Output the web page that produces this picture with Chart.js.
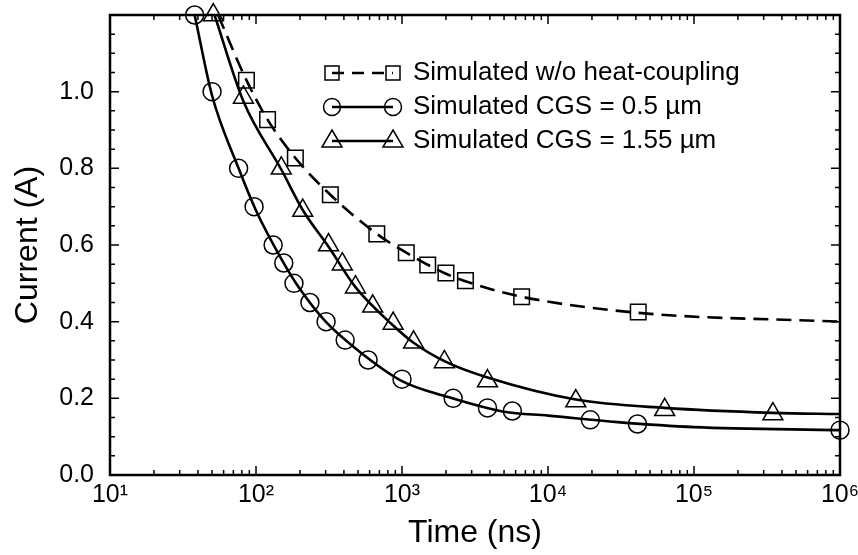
<!DOCTYPE html>
<html>
<head>
<meta charset="utf-8">
<script src="https://cdn.jsdelivr.net/npm/chart.js@4.4.1/dist/chart.umd.min.js"></script>
<style>
  html, body { margin: 0; padding: 0; background: #fff; }
  #wrap { width: 858px; height: 555px; }
</style>
</head>
<body>
<div id="wrap"><canvas id="chart"></canvas></div>
<script>
// --- данные ---
// маркеры: без теплового взаимодействия (квадраты)
const sqTime = [86, 120, 186, 323, 672, 1070, 1500, 2000, 2720, 6600, 41500];
const sqCurrent = [1.03, 0.927, 0.827, 0.731, 0.629, 0.58, 0.548, 0.527, 0.507, 0.465, 0.425];
// маркеры: CGS = 0.5 мкм (круги)
const ciTime = [38, 50, 76, 97, 131, 155, 182, 234, 302, 408, 586, 1000, 2240, 3850, 5700, 19500, 41000, 1000000];
const ciCurrent = [1.2, 1.0, 0.80, 0.70, 0.60, 0.553, 0.50, 0.45, 0.40, 0.352, 0.30, 0.25, 0.20, 0.175, 0.167, 0.144, 0.133, 0.117];
// маркеры: CGS = 1.55 мкм (треугольники)
const trTime = [51, 82, 149, 209, 314, 390, 480, 630, 870, 1200, 1950, 3850, 15500, 63000, 347000];
const trCurrent = [1.2, 0.985, 0.80, 0.69, 0.60, 0.55, 0.49, 0.44, 0.395, 0.346, 0.295, 0.245, 0.193, 0.17, 0.159];

// сглаженные кривые (точки вдоль линий)
const sqCurveTime = [55, 86, 120, 186, 323, 672, 1070, 2000, 3000, 6600, 41500, 1000000];
const sqCurveCurrent = [1.2, 1.03, 0.927, 0.827, 0.731, 0.629, 0.58, 0.525, 0.50, 0.465, 0.423, 0.40];
const ciCurveTime = [38, 50, 76, 100, 150, 200, 300, 500, 1000, 2000, 5000, 10000, 30000, 100000, 1000000];
const ciCurveCurrent = [1.2, 0.99, 0.80, 0.69, 0.562, 0.485, 0.40, 0.325, 0.245, 0.205, 0.165, 0.155, 0.138, 0.125, 0.117];
const trCurveTime = [52, 82, 150, 210, 315, 480, 870, 1200, 2000, 3800, 15500, 63000, 347000, 1000000];
const trCurveCurrent = [1.2, 0.975, 0.795, 0.69, 0.595, 0.49, 0.39, 0.345, 0.295, 0.255, 0.197, 0.175, 0.162, 0.159];

const seriesNames = ['Simulated w/o heat-coupling', 'Simulated CGS = 0.5 \u00b5m', 'Simulated CGS = 1.55 \u00b5m'];
const xTickValues = [10, 100, 1000, 10000, 100000, 1000000];
const xTickLabels = ['10\u00b9', '10\u00b2', '10\u00b3', '10\u2074', '10\u2075', '10\u2076'];
const yTickLabels = ['0.0', '0.2', '0.4', '0.6', '0.8', '1.0', ''];

const toPoints = (xs, ys) => xs.map((x, i) => ({x: x, y: ys[i]}));
const FONT = "'Liberation Sans', Arial, Helvetica, sans-serif";

// рамка, внутренние засечки и легенда с линией и двумя маркерами
const framePlugin = {
    id: 'frame',
    afterDraw(chart) {
        const {ctx, chartArea: a, scales} = chart;
        const x = scales.x, y = scales.y;
        ctx.save();
        ctx.strokeStyle = '#000';
        ctx.lineWidth = 1.5;
        ctx.beginPath();
        for (let e = 1; e < 6; e++) {
            for (let k = 1; k < 10; k++) {
                const px = x.getPixelForValue(k * Math.pow(10, e));
                const len = k === 1 ? 9 : 5;
                ctx.moveTo(px, a.bottom); ctx.lineTo(px, a.bottom - len);
                ctx.moveTo(px, a.top); ctx.lineTo(px, a.top + len);
            }
        }
        for (let i = 1; i < 24; i++) {
            const py = y.getPixelForValue(i * 0.05);
            const len = i % 4 === 0 ? 9 : 5;
            ctx.moveTo(a.left, py); ctx.lineTo(a.left + len, py);
            ctx.moveTo(a.right, py); ctx.lineTo(a.right - len, py);
        }
        ctx.stroke();
        ctx.lineWidth = 2.5;
        ctx.strokeRect(a.left, a.top, a.right - a.left, a.bottom - a.top);

        // легенда
        const styles = ['rect', 'circle', 'triangle'];
        const x1 = a.left + 222, x2 = a.left + 283;
        ctx.font = '26px ' + FONT;
        ctx.fillStyle = '#000';
        ctx.textBaseline = 'middle';
        for (let i = 0; i < 3; i++) {
            const ly = a.top + 58 + i * 34;
            ctx.lineWidth = 2.5;
            ctx.setLineDash(i === 0 ? [12, 8] : []);
            ctx.beginPath();
            ctx.moveTo(x1, ly); ctx.lineTo(x2, ly);
            ctx.stroke();
            ctx.setLineDash([]);
            ctx.lineWidth = 1.5;
            [x1, x2].forEach(cx => {
                ctx.beginPath();
                if (styles[i] === 'rect') {
                    ctx.rect(cx - 7, ly - 7, 14, 14);
                } else if (styles[i] === 'circle') {
                    ctx.arc(cx, ly, 8.5, 0, Math.PI * 2);
                } else {
                    ctx.moveTo(cx, ly - 11);
                    ctx.lineTo(cx + 10, ly + 6);
                    ctx.lineTo(cx - 10, ly + 6);
                    ctx.closePath();
                }
                ctx.stroke();
            });
            ctx.fillText(seriesNames[i], a.left + 303, ly);
        }
        ctx.restore();
    }
};

const markerSet = (label, data, style, radius) => ({
    label: label,
    data: data,
    showLine: false,
    pointStyle: style,
    pointRadius: radius,
    pointHoverRadius: radius,
    pointBorderWidth: 1.5,
    pointBorderColor: '#000',
    pointBackgroundColor: 'rgba(0,0,0,0)',
    clip: false
});

const curveSet = (data, dash) => ({
    data: data,
    showLine: true,
    borderColor: '#000',
    borderWidth: 2.6,
    borderDash: dash,
    pointRadius: 0,
    cubicInterpolationMode: 'monotone',
    fill: false
});

Chart.defaults.font.family = FONT;
Chart.defaults.color = '#000';

new Chart(document.getElementById('chart'), {
    type: 'scatter',
    data: {
        datasets: [
            curveSet(toPoints(sqCurveTime, sqCurveCurrent), [15, 8]),
            curveSet(toPoints(ciCurveTime, ciCurveCurrent), []),
            curveSet(toPoints(trCurveTime, trCurveCurrent), []),
            markerSet(seriesNames[0], toPoints(sqTime, sqCurrent), 'rect', 11),
            markerSet(seriesNames[1], toPoints(ciTime, ciCurrent), 'circle', 9),
            markerSet(seriesNames[2], toPoints(trTime, trCurrent), 'triangle', 11.5)
        ]
    },
    options: {
        responsive: true,
        maintainAspectRatio: false,
        animation: false,
        layout: {padding: {top: 15, right: 18, left: 0, bottom: 0}},
        plugins: {
            legend: {display: false},
            tooltip: {enabled: false}
        },
        scales: {
            x: {
                type: 'logarithmic',
                min: 10,
                max: 1000000,
                grid: {display: false, drawTicks: false},
                border: {display: false},
                afterBuildTicks: scale => {
                    scale.ticks = xTickValues.map(v => ({value: v}));
                },
                afterFit: scale => {
                    scale.height = 80;
                    scale.paddingLeft = 0;
                    scale.paddingRight = 0;
                },
                ticks: {
                    autoSkip: false,
                    maxRotation: 0,
                    padding: 5,
                    font: {size: 25},
                    callback: (v) => {
                        const i = xTickValues.indexOf(v);
                        return i >= 0 ? xTickLabels[i] : '';
                    }
                },
                title: {
                    display: true,
                    text: 'Time (ns)',
                    font: {size: 32},
                    padding: {top: 0, bottom: 3}
                }
            },
            y: {
                min: 0,
                max: 1.2,
                grid: {display: false, drawTicks: false},
                border: {display: false},
                afterFit: scale => {
                    scale.width = 110;
                    scale.paddingTop = 0;
                    scale.paddingBottom = 0;
                },
                ticks: {
                    stepSize: 0.2,
                    padding: 16,
                    font: {size: 25},
                    callback: (v, i) => yTickLabels[i] !== undefined ? yTickLabels[i] : ''
                },
                title: {
                    display: true,
                    text: 'Current (A)',
                    font: {size: 32},
                    padding: {top: 9, bottom: 0}
                }
            }
        }
    },
    plugins: [framePlugin]
});
</script>
</body>
</html>
